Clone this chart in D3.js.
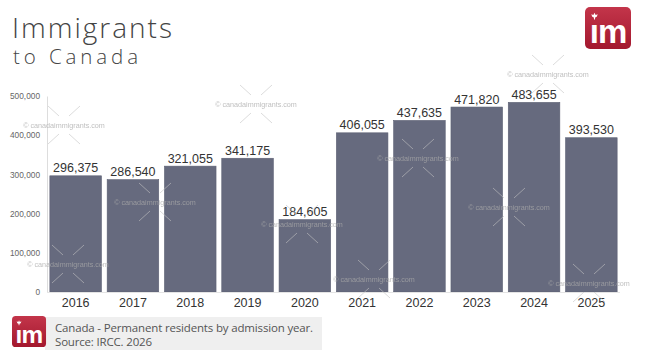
<!DOCTYPE html>
<html>
<head>
<meta charset="utf-8">
<script src="https://cdn.jsdelivr.net/npm/d3@7"></script>
<style>
  html, body { margin: 0; padding: 0; background: #fff; }
  svg { display: block; }
</style>
</head>
<body>
<svg id="chart" width="645" height="363"></svg>
<script>
const years = ["2016","2017","2018","2019","2020","2021","2022","2023","2024","2025"];
const residents = [296375, 286540, 321055, 341175, 184605, 406055, 437635, 471820, 483655, 393530];
const yTicks = [0, 100000, 200000, 300000, 400000, 500000];
const titleLines = ["Immigrants", "to Canada"];
const footerLines = ["Canada - Permanent residents by admission year.", "Source: IRCC. 2026"];
const watermarkText = "© canadaimmigrants.com";

const svg = d3.select("#chart");
const plot = { left: 47, right: 620, top: 96, bottom: 292 };

const x = d3.scaleBand().domain(years).range([plot.left, plot.right]).paddingInner(0.1).paddingOuter(0.05);
const y = d3.scaleLinear().domain([0, 500000]).range([plot.bottom, plot.top]);

const titleFont = "'Open Sans', 'DejaVu Sans', sans-serif";
const numFont = "'Liberation Sans', Arial, Helvetica, sans-serif";

function fitText(sel, target) {
  const len = sel.node().getComputedTextLength();
  const n = sel.text().length;
  if (n > 1) sel.attr("letter-spacing", ((target - len) / (n - 1)).toFixed(2));
}

// Title
const t1 = svg.append("text").attr("x", 12).attr("y", 38).text(titleLines[0])
  .attr("font-family", titleFont).attr("font-weight", 300).attr("font-size", 28).attr("fill", "#444");
fitText(t1, 160);
const t2 = svg.append("text").attr("x", 13).attr("y", 64).text(titleLines[1])
  .attr("font-family", titleFont).attr("font-weight", 300).attr("font-size", 20.5).attr("fill", "#444");
fitText(t2, 125);

// Logo
function logo(g, s, id) {
  const lg = svg.append("defs").append("linearGradient").attr("id", id)
    .attr("x1", 0).attr("y1", 0).attr("x2", 0).attr("y2", 1);
  lg.append("stop").attr("offset", "0%").attr("stop-color", "#c3354a");
  lg.append("stop").attr("offset", "100%").attr("stop-color", "#a3182e");
  g.append("rect").attr("width", 46 * s).attr("height", 42 * s).attr("rx", 5 * s)
    .attr("fill", `url(#${id})`);
  g.append("text").attr("x", 23 * s).attr("y", 36 * s).attr("text-anchor", "middle")
    .attr("font-family", "'Liberation Sans', Arial, sans-serif").attr("font-weight", 700)
    .attr("font-size", 33 * s).attr("letter-spacing", -1 * s).attr("fill", "#fff").text("ım");
  const lx = 9.5 * s, ly = 9 * s, r = 3.2 * s;
  g.append("path").attr("fill", "#fff")
    .attr("d", `M${lx},${ly - r} L${lx + r * 0.35},${ly - r * 0.3} L${lx + r},${ly - r * 0.55} L${lx + r * 0.7},${ly + r * 0.2} L${lx + r * 0.2},${ly + r * 0.5} L${lx + r * 0.15},${ly + r * 1.1} L${lx - r * 0.15},${ly + r * 1.1} L${lx - r * 0.2},${ly + r * 0.5} L${lx - r * 0.7},${ly + r * 0.2} L${lx - r},${ly - r * 0.55} L${lx - r * 0.35},${ly - r * 0.3} Z`);
}
logo(svg.append("g").attr("transform", "translate(585,7)"), 1, "lgTop");

// Y axis
const yAxis = d3.axisLeft(y).tickValues(yTicks).tickSize(0).tickPadding(7)
  .tickFormat(d => d === 0 ? "0" : d3.format(",")(d));
const ya = svg.append("g").attr("transform", `translate(${plot.left},0)`).call(yAxis);
ya.select(".domain").attr("stroke", "#ddd");
ya.selectAll("text").attr("font-family", numFont).attr("font-size", 8.3).attr("fill", "#666");

// Bars
svg.append("g").selectAll("rect").data(years).join("rect")
  .attr("x", d => x(d)).attr("width", x.bandwidth())
  .attr("y", (d, i) => y(residents[i])).attr("height", (d, i) => y(0) - y(residents[i]))
  .attr("fill", "#666a7e").attr("stroke", "#5b5f72").attr("stroke-width", 0.6);

svg.append("line").attr("x1", plot.left).attr("x2", plot.right).attr("y1", y(0) + 0.5).attr("y2", y(0) + 0.5)
  .attr("stroke", "#e4e4e4");

// Value labels
svg.append("g").selectAll("text").data(years).join("text")
  .attr("x", d => x(d) + x.bandwidth() / 2).attr("y", (d, i) => y(residents[i]) - 3.5)
  .attr("text-anchor", "middle").attr("font-family", numFont).attr("font-size", 12.5).attr("fill", "#333")
  .text((d, i) => d3.format(",")(residents[i]));

// Year labels
const xAxis = d3.axisBottom(x).tickSize(0).tickPadding(6);
const xa = svg.append("g").attr("transform", `translate(0,${plot.bottom})`).call(xAxis);
xa.select(".domain").remove();
xa.selectAll("text").attr("font-family", numFont).attr("font-size", 12.5).attr("fill", "#333");

// Watermarks
const wm = [[64,125],[68,264],[155,202],[256,104],[302,224],[374,279],[418,158],[509,207],[548,74],[589,283]];
const wg = svg.append("g").attr("opacity", 0.75);
wm.forEach(([cx, cy]) => {
  const g = wg.append("g").attr("transform", `translate(${cx},${cy})`);
  [[-1,-1],[1,-1],[-1,1],[1,1]].forEach(([sx, sy]) => {
    g.append("line").attr("x1", sx * 5).attr("y1", sy * 9).attr("x2", sx * 16).attr("y2", sy * 19)
      .attr("stroke", "#c4c4c4").attr("stroke-width", 0.8);
  });
  g.append("text").attr("text-anchor", "middle").attr("y", 2.5)
    .attr("font-family", numFont).attr("font-size", 7.2).attr("fill", "#aaa").text(watermarkText);
});

// Footer
svg.append("rect").attr("x", 45).attr("y", 317).attr("width", 277).attr("height", 33).attr("fill", "#efefef");
logo(svg.append("g").attr("transform", "translate(12,316)"), 0.74, "lgFoot");
const f1 = svg.append("text").attr("x", 55).attr("y", 332).text(footerLines[0])
  .attr("font-family", titleFont).attr("font-size", 11.5).attr("fill", "#555");
fitText(f1, 258);
const f2 = svg.append("text").attr("x", 55).attr("y", 346).text(footerLines[1])
  .attr("font-family", titleFont).attr("font-size", 11.5).attr("fill", "#555");
fitText(f2, 97);
</script>
</body>
</html>
